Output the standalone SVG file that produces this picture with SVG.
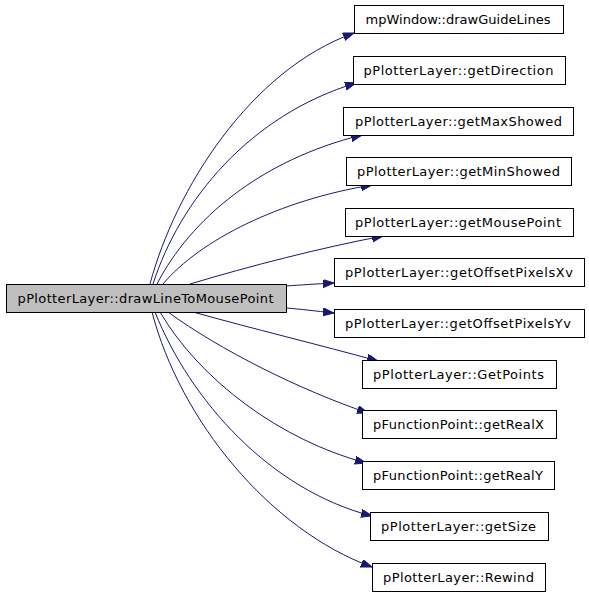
<svg xmlns="http://www.w3.org/2000/svg" width="589" height="595" viewBox="0 0 589 595">
<defs>
<marker id="arr" markerUnits="userSpaceOnUse" markerWidth="12" markerHeight="9" refX="11" refY="4" orient="auto">
<path d="M0,0 L11,4 L0,8 z" fill="#191970" stroke="#191970" stroke-width="1"/>
</marker>
<style>
.node rect{fill:#fff;stroke:#000;stroke-width:1}
.node.main rect{fill:#bfbfbf}
.node text{font-family:"DejaVu Sans",sans-serif;font-size:13px;text-anchor:middle;fill:#000}
.edges path{fill:none;stroke:#191970;stroke-width:1;marker-end:url(#arr)}
</style>
</defs>
<rect width="589" height="595" fill="#fff"/>
<g class="edges">
<path d="M150,284 C175,190 250,70 354,33"/>
<path d="M153,284 C180,200 250,115 356,83"/>
<path d="M157,284 C190,220 260,160 362,135"/>
<path d="M163,284 C200,240 280,200 372,185"/>
<path d="M190,284 C250,266 320,248 383,236"/>
<path d="M286,286 C300,285 315,284 334,283"/>
<path d="M286,308 C300,309 315,311 334,313"/>
<path d="M193,312 C250,328 320,345 378,361"/>
<path d="M168,312 C220,350 300,390 368,413"/>
<path d="M160,312 C200,380 280,440 366,463"/>
<path d="M155,312 C190,400 270,490 372,516"/>
<path d="M152,312 C180,420 270,530 372,567"/>
</g>
<g id="node-main" class="node main"><rect x="6.5" y="284.5" width="280" height="28"/><text x="145.5" y="303" textLength="256" lengthAdjust="spacing">pPlotterLayer::drawLineToMousePoint</text></g>
<g id="node-drawGuideLines" class="node"><rect x="354.5" y="5.5" width="209" height="28"/><text x="458" y="24" textLength="185" lengthAdjust="spacing">mpWindow::drawGuideLines</text></g>
<g id="node-getDirection" class="node"><rect x="353.5" y="56.5" width="212" height="28"/><text x="458.5" y="75" textLength="190" lengthAdjust="spacing">pPlotterLayer::getDirection</text></g>
<g id="node-getMaxShowed" class="node"><rect x="343.5" y="107.5" width="230" height="28"/><text x="458.5" y="126" textLength="207" lengthAdjust="spacing">pPlotterLayer::getMaxShowed</text></g>
<g id="node-getMinShowed" class="node"><rect x="346.5" y="157.5" width="225" height="28"/><text x="458.5" y="176" textLength="203" lengthAdjust="spacing">pPlotterLayer::getMinShowed</text></g>
<g id="node-getMousePoint" class="node"><rect x="345.5" y="208.5" width="228" height="28"/><text x="458" y="227" textLength="206" lengthAdjust="spacing">pPlotterLayer::getMousePoint</text></g>
<g id="node-getOffsetPixelsXv" class="node"><rect x="334.5" y="258.5" width="250" height="28"/><text x="459" y="277" textLength="228" lengthAdjust="spacing">pPlotterLayer::getOffsetPixelsXv</text></g>
<g id="node-getOffsetPixelsYv" class="node"><rect x="334.5" y="309.5" width="250" height="28"/><text x="458" y="328" textLength="226" lengthAdjust="spacing">pPlotterLayer::getOffsetPixelsYv</text></g>
<g id="node-GetPoints" class="node"><rect x="362.5" y="360.5" width="194" height="28"/><text x="458.5" y="379" textLength="171" lengthAdjust="spacing">pPlotterLayer::GetPoints</text></g>
<g id="node-getRealX" class="node"><rect x="362.5" y="410.5" width="194" height="28"/><text x="458.5" y="429" textLength="171" lengthAdjust="spacing">pFunctionPoint::getRealX</text></g>
<g id="node-getRealY" class="node"><rect x="362.5" y="461.5" width="192" height="28"/><text x="458" y="480" textLength="170" lengthAdjust="spacing">pFunctionPoint::getRealY</text></g>
<g id="node-getSize" class="node"><rect x="370.5" y="512.5" width="178" height="28"/><text x="458.5" y="531" textLength="155" lengthAdjust="spacing">pPlotterLayer::getSize</text></g>
<g id="node-Rewind" class="node"><rect x="372.5" y="563.5" width="173" height="28"/><text x="458.5" y="582" textLength="151" lengthAdjust="spacing">pPlotterLayer::Rewind</text></g>
</svg>
